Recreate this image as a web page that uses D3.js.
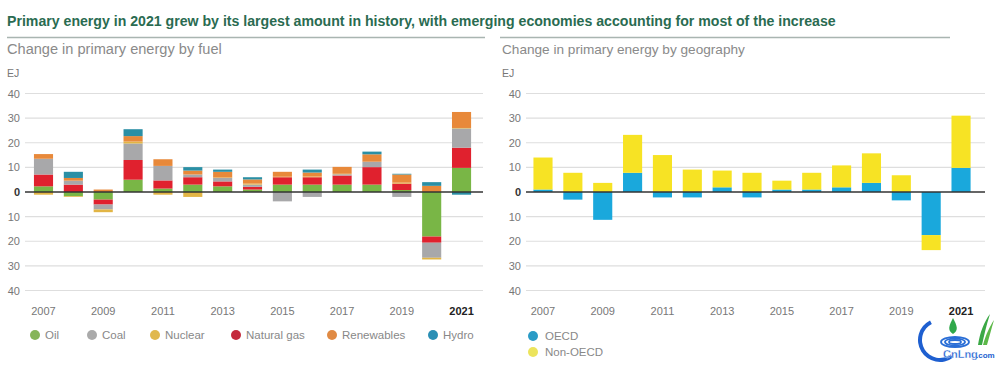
<!DOCTYPE html>
<html><head><meta charset="utf-8">
<script src="https://cdn.jsdelivr.net/npm/d3@7"></script>
<style>
body{margin:0;background:#fff;}
svg{display:block;font-family:"Liberation Sans",Arial,sans-serif;}
</style></head>
<body><svg id="c" width="1000" height="368"></svg>
<script>
const years = [2007,2008,2009,2010,2011,2012,2013,2014,2015,2016,2017,2018,2019,2020,2021];
const tickYears = [2007,2009,2011,2013,2015,2017,2019,2021];
const yTicks = [40,30,20,10,0,-10,-20,-30,-40];
const fuels = ["Oil","Coal","Nuclear","Natural gas","Renewables","Hydro"];
const stackOrder = ["Oil","Natural gas","Coal","Nuclear","Renewables","Hydro"];
const oil        = [2.3,-1.7,-3.1,5.0,1.4,3.0,2.3,1.0,3.0,3.0,3.0,3.0,0.8,-18.1,9.8];
const gas        = [4.8,3.0,-2.0,8.0,3.3,3.0,2.0,1.1,3.0,3.0,3.7,7.1,2.6,-2.5,8.2];
const coal       = [6.4,1.6,-2.0,6.7,5.9,1.1,1.4,0.9,-3.8,-2.0,0.5,2.2,-2.0,-6.1,7.8];
const nuclear    = [-1.1,-0.3,-1.1,0.8,-1.1,-2.0,0.2,0.4,0.2,0.3,0.2,0.0,0.4,-0.7,0.2];
const renewables = [1.9,1.1,1.0,2.2,2.7,1.6,2.3,1.7,2.0,1.6,2.8,3.0,3.3,2.5,6.5];
const hydro      = [0.0,2.5,0.0,2.8,0.0,1.4,0.9,0.9,0.0,1.2,0.0,1.1,0.3,1.5,-1.1];
const regions = ["OECD","Non-OECD"];
const oecd    = [1.0,-3.1,-11.3,7.8,-2.2,-2.2,1.9,-2.2,1.0,1.0,1.9,3.7,-3.4,-17.5,9.8];
const nonOecd = [13.0,7.8,3.7,15.4,15.0,9.1,6.8,7.8,3.6,6.8,8.9,12.0,6.8,-6.1,21.2];

const fuelColor = {"Oil":"#79b646","Coal":"#a8a8aa","Nuclear":"#e2b545","Natural gas":"#e0212e","Renewables":"#e8893a","Hydro":"#2a8fa5"};
const legendColor = {"Oil":"#86b55a","Coal":"#aaaaaa","Nuclear":"#e0b84e","Natural gas":"#c42a3c","Renewables":"#e08a44","Hydro":"#2a8fb5"};
const regColor = {"OECD":"#1aa8dc","Non-OECD":"#f7e324"};
const regLegend = {"OECD":"#2a9bc6","Non-OECD":"#ece45c"};

const svg = d3.select("#c");

// Title
const title = svg.append("text").attr("x",7).attr("y",26)
  .attr("fill","#2a6b51").attr("font-weight","bold").attr("font-size",14)
  .text("Primary energy in 2021 grew by its largest amount in history, with emerging economies accounting for most of the increase");
const tw = title.node().getComputedTextLength();
title.attr("font-size", 14*830/tw);

svg.append("line").attr("x1",7).attr("x2",485).attr("y1",37.5).attr("y2",37.5).attr("stroke","#a9b5b1").attr("stroke-width",1.5);
svg.append("line").attr("x1",500).attr("x2",950).attr("y1",37.5).attr("y2",37.5).attr("stroke","#a9b5b1").attr("stroke-width",1.5);

const y = d3.scaleLinear().domain([-40,40]).range([290.5,93.5]);

function panel(opts){
  const g = svg.append("g");
  const sub = g.append("text").attr("x",opts.subX).attr("y",54).attr("fill","#8a8a8a").attr("font-size",14).text(opts.subtitle);
  const sw = sub.node().getComputedTextLength();
  sub.attr("font-size",14*opts.subW/sw);
  g.append("text").attr("x",opts.subX).attr("y",77).attr("fill","#777").attr("font-size",10.5).text("EJ");
  // grid
  g.selectAll(".grid").data(yTicks.filter(d=>d!==0)).enter().append("line")
    .attr("x1",opts.gx0).attr("x2",opts.gx1).attr("y1",d=>y(d)).attr("y2",d=>y(d))
    .attr("stroke","#dedede").attr("stroke-width",1.2);
  g.selectAll(".yl").data(yTicks).enter().append("text")
    .attr("x",opts.gx0-5).attr("y",d=>y(d)+4).attr("text-anchor","end")
    .attr("font-size",11).attr("fill",d=>d===0?"#333":"#777").attr("font-weight",d=>d===0?"bold":"normal")
    .text(d=>Math.abs(d));
  const x = d3.scaleBand().domain(years).range(opts.xr).paddingInner(0.36).paddingOuter(0.18);
  const stack = d3.stack().keys(opts.keys).offset(d3.stackOffsetDiverging);
  const series = stack(opts.rows);
  g.selectAll(".s").data(series).enter().append("g").attr("fill",d=>opts.color[d.key])
    .selectAll("rect").data(d=>d).enter().append("rect")
    .attr("x",d=>x(d.data.year)).attr("width",x.bandwidth())
    .attr("y",d=>y(Math.max(d[0],d[1]))).attr("height",d=>Math.abs(y(d[0])-y(d[1])));
  g.append("line").attr("x1",opts.gx0).attr("x2",opts.gx1).attr("y1",y(0)).attr("y2",y(0)).attr("stroke","#333").attr("stroke-width",1.3);
  g.selectAll(".xl").data(tickYears).enter().append("text")
    .attr("x",d=>x(d)+x.bandwidth()/2).attr("y",315).attr("text-anchor","middle")
    .attr("font-size",11).attr("fill",d=>d===2021?"#222":"#777").attr("font-weight",d=>d===2021?"bold":"normal")
    .text(d=>d);
  return {g,x};
}

const fuelRows = years.map((yr,i)=>({year:yr,"Oil":oil[i],"Coal":coal[i],"Nuclear":nuclear[i],"Natural gas":gas[i],"Renewables":renewables[i],"Hydro":hydro[i]}));
const p1 = panel({subtitle:"Change in primary energy by fuel",subX:7,subW:215,gx0:25,gx1:483,xr:[28.57,476.47],keys:stackOrder,rows:fuelRows,color:fuelColor});

const regRows = years.map((yr,i)=>({year:yr,"OECD":oecd[i],"Non-OECD":nonOecd[i]}));
const p2 = panel({subtitle:"Change in primary energy by geography",subX:502,subW:243,gx0:526,gx1:985,xr:[528.07,975.97],keys:regions,rows:regRows,color:regColor});

// legends
const legX = [35,92,155,236,332,433];
const lg = svg.append("g");
fuels.forEach((f,i)=>{
  lg.append("circle").attr("cx",legX[i]).attr("cy",335).attr("r",5).attr("fill",legendColor[f]);
  lg.append("text").attr("x",legX[i]+10).attr("y",339).attr("font-size",11.5).attr("fill","#888").text(f);
});
regions.forEach((r,i)=>{
  lg.append("circle").attr("cx",533).attr("cy",336+i*16).attr("r",5).attr("fill",regLegend[r]);
  lg.append("text").attr("x",545).attr("y",340+i*16).attr("font-size",11.5).attr("fill","#888").text(r);
});

// watermark logo
const logo = svg.append("g");
const arc = d3.arc().innerRadius(18).outerRadius(22).startAngle(-Math.PI*0.15).endAngle(-Math.PI*1.2);
logo.append("path").attr("d",arc()).attr("transform","translate(940,340)").attr("fill","#1e5fd0");
[[14,5],[10,3.5],[6,2]].forEach(([rx,ry])=>logo.append("ellipse").attr("cx",955).attr("cy",342).attr("rx",rx).attr("ry",ry).attr("fill","none").attr("stroke","#2a6ed6").attr("stroke-width",1.8));
logo.append("path").attr("d","M953,318 C949,326 947,330 953,334 C959,330 957,326 953,318Z").attr("fill","#2fa84a");
logo.append("path").attr("d","M978,345 C980,332 984,322 990,314 C986,326 984,336 982,345Z").attr("fill","#3aa845");
logo.append("path").attr("d","M983,345 C986,334 990,326 994,320 C991,330 989,338 987,345Z").attr("fill","#5cb848");
logo.append("text").attr("x",943).attr("y",358).attr("font-size",11).attr("font-weight","bold").attr("fill","#1e5fd0").attr("stroke","#fff").attr("stroke-width",0.3).text("CnLng");
logo.append("text").attr("x",976).attr("y",358).attr("font-size",8).attr("font-weight","bold").attr("fill","#1e5fd0").text(".com");
</script></body></html>
